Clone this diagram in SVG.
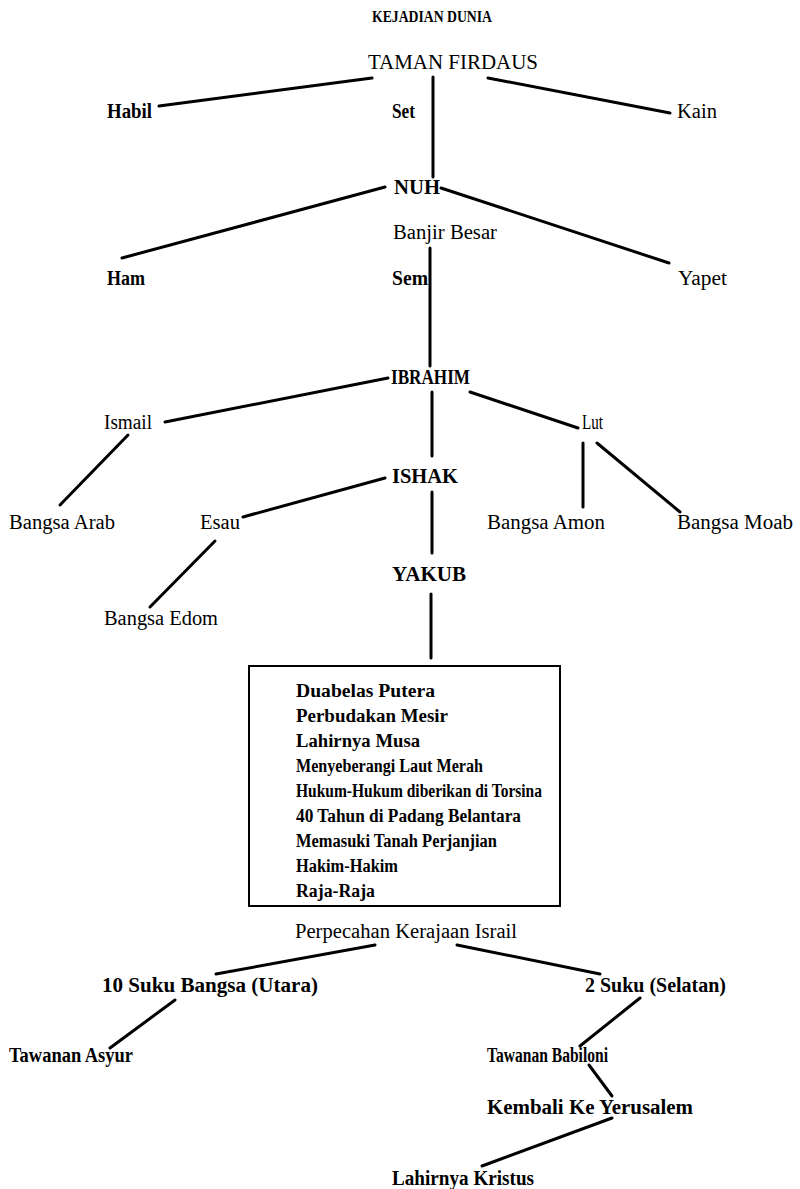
<svg xmlns="http://www.w3.org/2000/svg" width="800" height="1189" viewBox="0 0 800 1189">
<style>
text{font-family:"Liberation Serif","Times New Roman",serif;fill:#000;font-size:20px}
.b{font-weight:bold}
.t{font-size:16px;font-weight:bold}
.bx{font-size:18px;font-weight:bold}
.c line{stroke:#000;stroke-width:3;stroke-linecap:round}
</style>
<rect width="800" height="1189" fill="#fff"/>
<g id="title"><text class="t" x="372" y="22" textLength="120" lengthAdjust="spacingAndGlyphs">KEJADIAN DUNIA</text></g>
<g class="c" id="connectors">
<line x1="159" y1="106" x2="372" y2="78"/>
<line x1="433" y1="77" x2="433" y2="177"/>
<line x1="488" y1="78" x2="670" y2="113"/>
<line x1="122" y1="258" x2="385" y2="187"/>
<line x1="441" y1="188" x2="669" y2="263"/>
<line x1="430" y1="248" x2="430" y2="366"/>
<line x1="165" y1="422" x2="388" y2="378"/>
<line x1="470" y1="392" x2="578" y2="428"/>
<line x1="432" y1="392" x2="432" y2="456"/>
<line x1="128" y1="435" x2="60" y2="505"/>
<line x1="583" y1="443" x2="583" y2="507"/>
<line x1="597" y1="443" x2="680" y2="512"/>
<line x1="385" y1="478" x2="243" y2="517"/>
<line x1="432" y1="492" x2="432" y2="553"/>
<line x1="215" y1="541" x2="150" y2="607"/>
<line x1="431" y1="594" x2="431" y2="658"/>
<line x1="375" y1="945" x2="216" y2="974"/>
<line x1="457" y1="945" x2="600" y2="974"/>
<line x1="175" y1="1000" x2="110" y2="1048"/>
<line x1="640" y1="998" x2="580" y2="1046"/>
<line x1="589" y1="1065" x2="612" y2="1096"/>
<line x1="612" y1="1118" x2="482" y2="1166"/>
</g>
<g id="taman"><text x="368" y="69" textLength="170" lengthAdjust="spacingAndGlyphs">TAMAN FIRDAUS</text></g>
<g id="habil"><text class="b" x="107" y="118" textLength="45" lengthAdjust="spacingAndGlyphs">Habil</text></g>
<g id="set"><text class="b" x="392" y="118" textLength="23" lengthAdjust="spacingAndGlyphs">Set</text></g>
<g id="kain"><text x="677" y="118" textLength="40" lengthAdjust="spacingAndGlyphs">Kain</text></g>
<g id="nuh"><text class="b" x="394" y="194" textLength="46" lengthAdjust="spacingAndGlyphs">NUH</text></g>
<g id="banjir"><text x="393" y="239" textLength="104" lengthAdjust="spacingAndGlyphs">Banjir Besar</text></g>
<g id="ham"><text class="b" x="107" y="285" textLength="38" lengthAdjust="spacingAndGlyphs">Ham</text></g>
<g id="sem"><text class="b" x="392" y="285" textLength="36" lengthAdjust="spacingAndGlyphs">Sem</text></g>
<g id="yapet"><text x="678" y="285" textLength="49" lengthAdjust="spacingAndGlyphs">Yapet</text></g>
<g id="ibrahim"><text class="b" x="391" y="384" textLength="79" lengthAdjust="spacingAndGlyphs">IBRAHIM</text></g>
<g id="ismail"><text x="104" y="429" textLength="48" lengthAdjust="spacingAndGlyphs">Ismail</text></g>
<g id="lut"><text x="582" y="429" textLength="21" lengthAdjust="spacingAndGlyphs">Lut</text></g>
<g id="ishak"><text class="b" x="392" y="483" textLength="66" lengthAdjust="spacingAndGlyphs">ISHAK</text></g>
<g id="arab"><text x="9" y="529" textLength="106" lengthAdjust="spacingAndGlyphs">Bangsa Arab</text></g>
<g id="esau"><text x="200" y="529" textLength="40" lengthAdjust="spacingAndGlyphs">Esau</text></g>
<g id="amon"><text x="487" y="529" textLength="118" lengthAdjust="spacingAndGlyphs">Bangsa Amon</text></g>
<g id="moab"><text x="677" y="529" textLength="116" lengthAdjust="spacingAndGlyphs">Bangsa Moab</text></g>
<g id="yakub"><text class="b" x="392" y="581" textLength="74" lengthAdjust="spacingAndGlyphs">YAKUB</text></g>
<g id="edom"><text x="104" y="625" textLength="114" lengthAdjust="spacingAndGlyphs">Bangsa Edom</text></g>
<g id="box">
<rect x="249" y="666" width="311" height="240" fill="none" stroke="#000" stroke-width="2"/>
<text class="bx" x="296" y="697" textLength="139" lengthAdjust="spacingAndGlyphs">Duabelas Putera</text>
<text class="bx" x="296" y="722" textLength="152" lengthAdjust="spacingAndGlyphs">Perbudakan Mesir</text>
<text class="bx" x="296" y="747" textLength="124" lengthAdjust="spacingAndGlyphs">Lahirnya Musa</text>
<text class="bx" x="296" y="772" textLength="187" lengthAdjust="spacingAndGlyphs">Menyeberangi Laut Merah</text>
<text class="bx" x="296" y="797" textLength="246" lengthAdjust="spacingAndGlyphs">Hukum-Hukum diberikan di Torsina</text>
<text class="bx" x="296" y="822" textLength="225" lengthAdjust="spacingAndGlyphs">40 Tahun di Padang Belantara</text>
<text class="bx" x="296" y="847" textLength="201" lengthAdjust="spacingAndGlyphs">Memasuki Tanah Perjanjian</text>
<text class="bx" x="296" y="872" textLength="102" lengthAdjust="spacingAndGlyphs">Hakim-Hakim</text>
<text class="bx" x="296" y="897" textLength="79" lengthAdjust="spacingAndGlyphs">Raja-Raja</text>
</g>
<g id="perpecahan"><text x="295" y="938" textLength="222" lengthAdjust="spacingAndGlyphs">Perpecahan Kerajaan Israil</text></g>
<g id="utara"><text class="b" x="102" y="992" textLength="216" lengthAdjust="spacingAndGlyphs">10 Suku Bangsa (Utara)</text></g>
<g id="selatan"><text class="b" x="585" y="992" textLength="141" lengthAdjust="spacingAndGlyphs">2 Suku (Selatan)</text></g>
<g id="asyur"><text class="b" x="9" y="1062" textLength="124" lengthAdjust="spacingAndGlyphs">Tawanan Asyur</text></g>
<g id="babiloni"><text class="b" x="487" y="1062" textLength="121" lengthAdjust="spacingAndGlyphs">Tawanan Babiloni</text></g>
<g id="kembali"><text class="b" x="487" y="1114" textLength="206" lengthAdjust="spacingAndGlyphs">Kembali Ke Yerusalem</text></g>
<g id="kristus"><text class="b" x="392" y="1185" textLength="142" lengthAdjust="spacingAndGlyphs">Lahirnya Kristus</text></g>
</svg>
